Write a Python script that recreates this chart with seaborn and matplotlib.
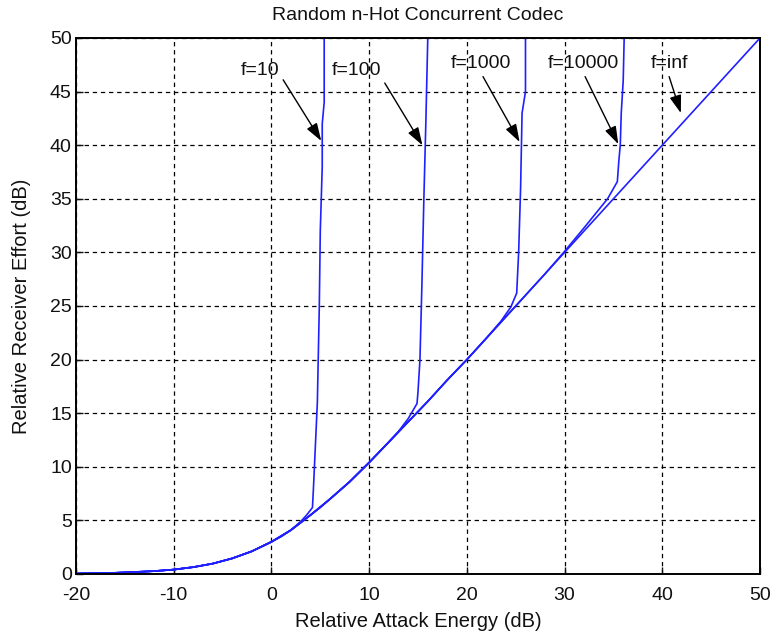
import matplotlib
matplotlib.use("Agg")
import matplotlib.pyplot as plt
import seaborn as sns
import pandas as pd

# ---------------- data ----------------
title = "Random n-Hot Concurrent Codec"
x_label = "Relative Attack Energy (dB)"
y_label = "Relative Receiver Effort (dB)"

# f = inf curve (the common envelope)
base_x = [-20, -18, -16, -14, -12, -10, -8, -6, -4, -2, 0, 1, 2, 3, 4, 5, 6, 7, 8, 9,
          10, 12, 14, 16, 18, 20, 22, 25, 28, 30, 35, 40, 45, 50]
base_y = [0.04, 0.07, 0.11, 0.17, 0.27, 0.41, 0.64, 0.97, 1.46, 2.12, 3.0, 3.5, 4.1, 4.8,
          5.5, 6.2, 7.0, 7.8, 8.6, 9.5, 10.4, 12.3, 14.2, 16.1, 18.1, 20.0, 22.0, 25.0,
          28.0, 30.0, 35.0, 40.0, 45.0, 50.0]

# f = 10
f10_x = [-20, -18, -16, -14, -12, -10, -8, -6, -4, -2, 0, 1, 2, 3.0, 3.6, 4.2, 4.3, 4.4, 4.7, 4.9, 5.0, 5.2, 5.2, 5.4, 5.4]
f10_y = [0.04, 0.07, 0.11, 0.17, 0.27, 0.41, 0.64, 0.97, 1.46, 2.12, 3.0, 3.5, 4.1, 4.9, 5.5, 6.2, 8.0, 10.0, 16.0, 25.0, 32.0, 38.0, 42.0, 44.0, 50.0]

# f = 100
f100_x = [-20, -16, -12, -10, -8, -6, -4, -2, 0, 2, 4, 6, 8, 10, 12, 13.0, 14.0, 14.9, 15.0, 15.2, 15.4, 15.6, 15.8, 16.0]
f100_y = [0.04, 0.11, 0.27, 0.41, 0.64, 0.97, 1.46, 2.12, 3.0, 4.1, 5.5, 7.0, 8.6, 10.4, 12.3, 13.3, 14.5, 15.9, 17.0, 20.0, 27.0, 35.0, 42.0, 50.0]

# f = 1000
f1000_x = [-20, -16, -12, -10, -8, -6, -4, -2, 0, 2, 4, 6, 8, 10, 12, 14, 16, 18, 20, 22, 23.5, 24.5, 25.1, 25.3, 25.5, 25.65, 26.0, 26.0]
f1000_y = [0.04, 0.11, 0.27, 0.41, 0.64, 0.97, 1.46, 2.12, 3.0, 4.1, 5.5, 7.0, 8.6, 10.4, 12.3, 14.2, 16.1, 18.1, 20.0, 22.0, 23.6, 24.9, 26.2, 30.0, 36.0, 43.0, 45.0, 50.0]

# f = 10000
f10000_x = [-20, -16, -12, -10, -8, -6, -4, -2, 0, 2, 4, 6, 8, 10, 12, 14, 16, 18, 20, 22, 25, 28, 30, 32, 34.4, 35.4, 35.55, 35.7, 35.8, 36.0, 36.1]
f10000_y = [0.04, 0.11, 0.27, 0.41, 0.64, 0.97, 1.46, 2.12, 3.0, 4.1, 5.5, 7.0, 8.6, 10.4, 12.3, 14.2, 16.1, 18.1, 20.0, 22.0, 25.0, 28.0, 30.1, 32.3, 35.0, 36.6, 38.5, 40.0, 43.0, 46.0, 50.0]

labels = ["f=10", "f=100", "f=1000", "f=10000", "f=inf"]
label_pos = [(-1.2, 47.0), (8.7, 47.0), (21.4, 47.6), (31.9, 47.6), (40.7, 47.6)]
arrow_tail = [(1.2, 46.1), (11.6, 45.8), (21.65, 46.4), (32.1, 46.4), (40.7, 46.4)]
arrow_tip = [(5.1, 40.4), (15.45, 40.0), (25.4, 40.3), (35.5, 40.1), (41.9, 43.0)]

x_ticks = [-20, -10, 0, 10, 20, 30, 40, 50]
y_ticks = [0, 5, 10, 15, 20, 25, 30, 35, 40, 45, 50]

# ---------------- plotting ----------------
sns.set_theme(style="white")
plt.rcParams["font.family"] = ["Liberation Sans", "DejaVu Sans"]
plt.rcParams["axes.unicode_minus"] = False

fig = plt.figure(figsize=(7.7, 6.36), dpi=100)
ax = fig.add_axes([76 / 770, 1 - 574 / 636, (760 - 76) / 770, (574 - 38) / 636])

series = [(base_x, base_y), (f10_x, f10_y), (f100_x, f100_y),
          (f1000_x, f1000_y), (f10000_x, f10000_y)]
for xs, ys in series:
    df = pd.DataFrame({"x": xs, "y": ys})
    sns.lineplot(data=df, x="x", y="y", sort=False, estimator=None,
                 color="#2020ff", linewidth=1.2, ax=ax)

ax.set_xlim(-20, 50)
ax.set_ylim(0, 50)
ax.set_xticks(x_ticks)
ax.set_yticks(y_ticks)
ax.grid(True, color="black", linestyle=(0, (3.5, 3.0)), linewidth=0.9)
ax.set_axisbelow(True)
for s in ax.spines.values():
    s.set_color("black")
    s.set_linewidth(1.4)
ax.tick_params(direction="in", length=5, width=1, colors="#111111",
               labelsize=14, top=False, right=False, bottom=True, left=True)
ax.tick_params(axis="x", pad=9)
ax.tick_params(axis="y", pad=3)

fig.text(418 / 770, 1 - 15 / 636, title, ha="center", va="center", fontsize=14, color="#111111")
ax.set_xlabel(x_label, fontsize=14.5, color="#111111", va="center")
ax.xaxis.set_label_coords(0.5, (573 - 620) / 535)
ax.set_ylabel(y_label, fontsize=14.5, color="#111111", va="center")
ax.yaxis.set_label_coords((22 - 76) / 684, 0.5)

for lab, tp, tl, tip in zip(labels, label_pos, arrow_tail, arrow_tip):
    ax.text(tp[0], tp[1], lab, ha="center", va="center", fontsize=14, color="#111111")
    ax.annotate("", xy=tip, xytext=tl,
                arrowprops=dict(arrowstyle="-|>,head_length=0.9,head_width=0.3",
                                color="black", lw=1.0, shrinkA=0, shrinkB=0))

fig.savefig("out.png", dpi=100, facecolor="white")
